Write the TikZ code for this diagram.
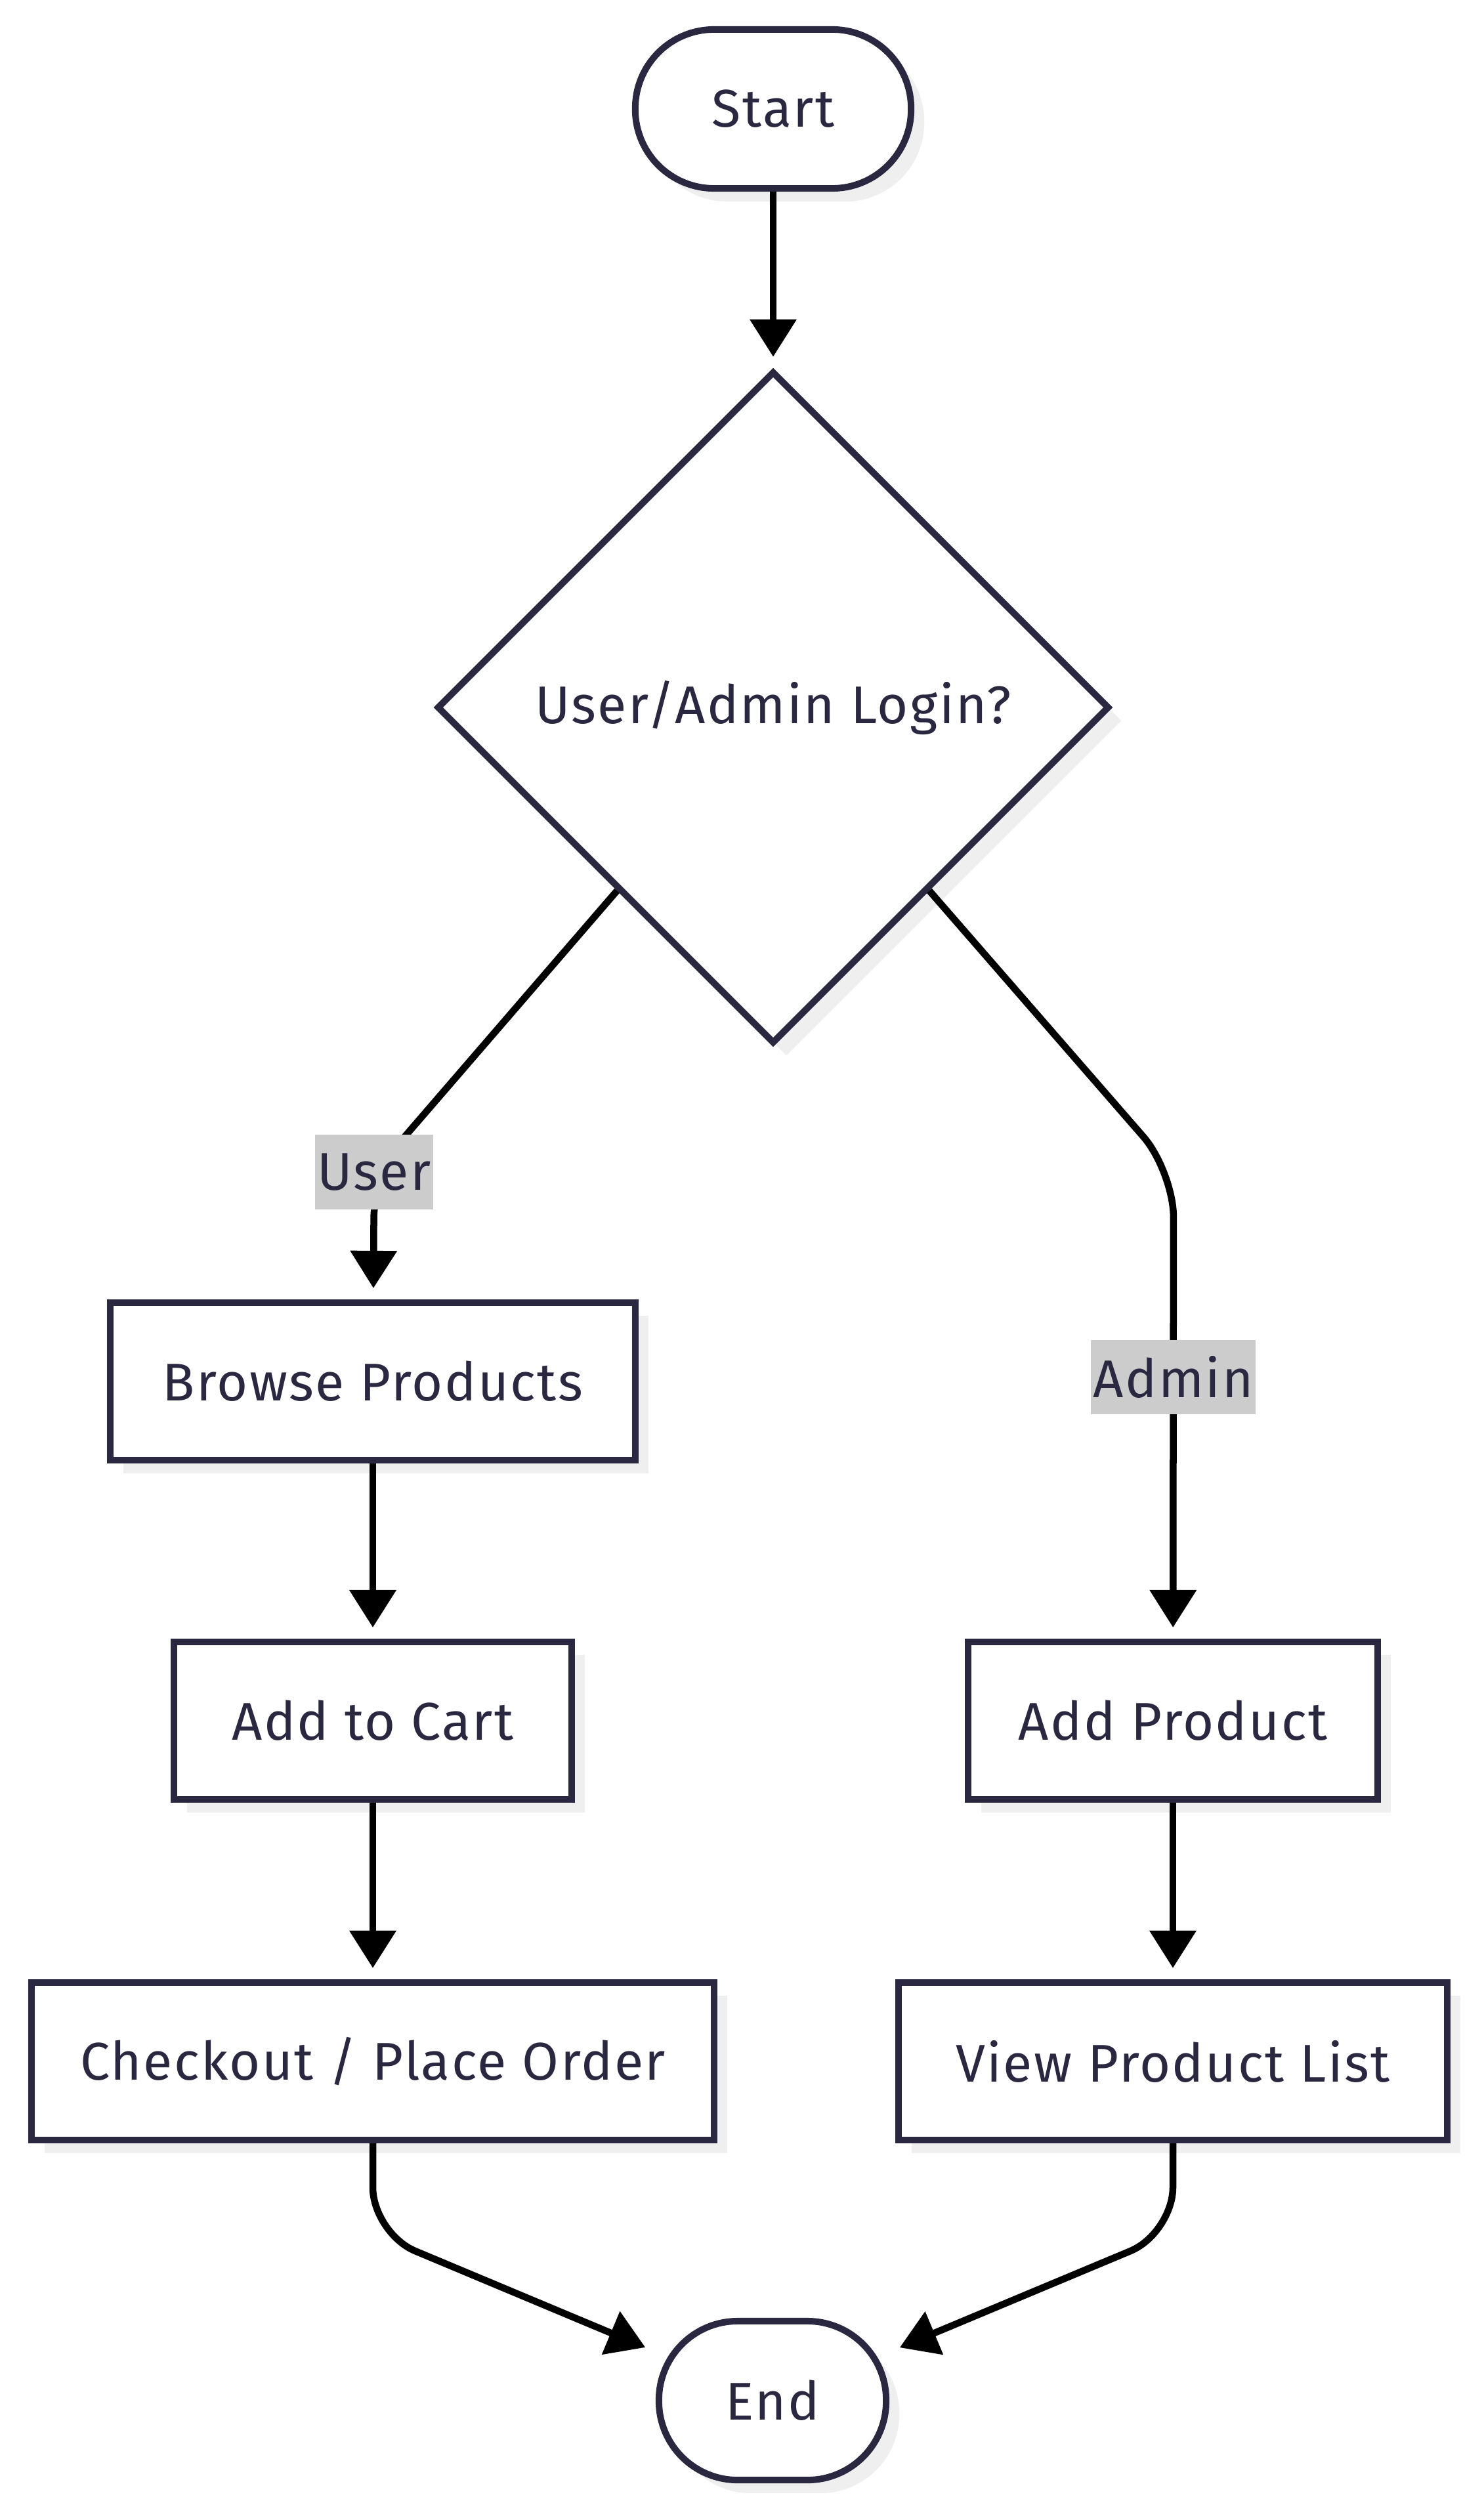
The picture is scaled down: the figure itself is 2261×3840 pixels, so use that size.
\documentclass[tikz,border=0pt]{standalone}
\usepackage{fontspec}
\setmainfont{Fira Sans}[LetterSpace=3]
\usetikzlibrary{shapes.geometric,arrows.meta,shadows,calc}
\definecolor{ink}{HTML}{2A2840}
\definecolor{shade}{HTML}{EFEFEF}
\definecolor{tagbg}{HTML}{CCCCCC}

\begin{document}
\begin{tikzpicture}[x=0.01cm, y=-0.01cm,
  every node/.style={font=\fontsize{23}{27}\selectfont, text=ink},
  base/.style={draw=ink, line width=1mm, fill=white, inner sep=0pt,
    drop shadow={shadow xshift=0.2cm, shadow yshift=-0.2cm, fill=shade, opacity=1}},
  term/.style={base, rectangle, rounded corners=1.2cm, minimum height=2.42cm},
  proc/.style={base, rectangle, minimum height=2.4cm},
  decide/.style={base, diamond, minimum width=10.24cm, minimum height=10.24cm},
  tag/.style={sharp corners, fill=tagbg, inner xsep=1pt, inner ysep=0pt, minimum height=1.13cm},
  flow/.style={line width=1.05mm, -{Triangle[length=0.57cm, width=0.69cm]},
    rounded corners=0.7cm, shorten >=0.17cm}]
  \fill[white] (0,0) rectangle (2261,3840);
  \useasboundingbox (0,0) rectangle (2261,3840);

  \node[term, minimum width=4.2cm] (start) at (1178,166) {Start};
  \node[decide] (login) at (1178,1078) {User/Admin Login?};
  \node[proc, minimum width=8cm] (browse) at (568,2105) {Browse Products};
  \node[proc, minimum width=6.05cm] (cart) at (568,2622) {Add to Cart};
  \node[proc, minimum width=10.4cm] (checkout) at (568,3141) {Checkout / Place Order};
  \node[proc, minimum width=6.24cm] (addprod) at (1787,2622) {Add Product};
  \node[proc, minimum width=8.36cm] (viewlist) at (1787,3141) {View Product List};
  \node[term, minimum width=3.46cm] (end) at (1177,3658) {End};

  \coordinate (ubend) at (570,1786);
  \coordinate (abend) at (1788,1785);
  \coordinate (cbend) at (568,3403);
  \coordinate (vbend) at (1787,3403);

  \draw[flow] (start) -- (login);
  \draw[flow] ($(login.west)!0.54!(login.south)$) -- (ubend)
    node[tag] (usertag) {User} -- (browse);
  \draw[flow] ($(login.east)!0.54!(login.south)$) -- (abend) -- (addprod)
    node[tag, pos=0.44] (admintag) {Admin};
  \draw[flow] (browse) -- (cart);
  \draw[flow] (cart) -- (checkout);
  \draw[flow] (addprod) -- (viewlist);
  \draw[flow] (checkout) -- (cbend) -- (end);
  \draw[flow] (viewlist) -- (vbend) -- (end);
\end{tikzpicture}
\end{document}
